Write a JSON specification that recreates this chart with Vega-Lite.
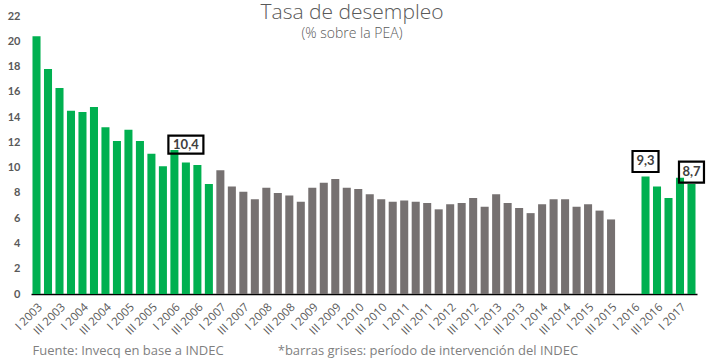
{
  "$schema": "https://vega.github.io/schema/vega-lite/v6.json",
  "width": 666,
  "height": 278,
  "autosize": {"type": "none"},
  "padding": {"left": 31, "top": 16, "right": 14, "bottom": 69},
  "background": "white",
  "title": {
    "text": "Tasa de desempleo",
    "subtitle": "(% sobre la PEA)",
    "anchor": "middle",
    "frame": "group",
    "dx": -12,
    "offset": -31,
    "font": "Open Sans",
    "fontSize": 21,
    "fontWeight": 300,
    "color": "#595959",
    "subtitleFont": "Open Sans",
    "subtitleFontSize": 14,
    "subtitleFontWeight": 300,
    "subtitleColor": "#595959",
    "subtitlePadding": 4
  },
  "config": {"view": {"stroke": null}},
  "data": {
    "values": [
      {"q": "I 2003", "v": 20.4, "p": "normal"},
      {"q": "II 2003", "v": 17.8, "p": "normal"},
      {"q": "III 2003", "v": 16.3, "p": "normal"},
      {"q": "IV 2003", "v": 14.5, "p": "normal"},
      {"q": "I 2004", "v": 14.4, "p": "normal"},
      {"q": "II 2004", "v": 14.8, "p": "normal"},
      {"q": "III 2004", "v": 13.2, "p": "normal"},
      {"q": "IV 2004", "v": 12.1, "p": "normal"},
      {"q": "I 2005", "v": 13.0, "p": "normal"},
      {"q": "II 2005", "v": 12.1, "p": "normal"},
      {"q": "III 2005", "v": 11.1, "p": "normal"},
      {"q": "IV 2005", "v": 10.1, "p": "normal"},
      {"q": "I 2006", "v": 11.4, "p": "normal"},
      {"q": "II 2006", "v": 10.4, "p": "normal", "lab": "10,4"},
      {"q": "III 2006", "v": 10.2, "p": "normal"},
      {"q": "IV 2006", "v": 8.7, "p": "normal"},
      {"q": "I 2007", "v": 9.8, "p": "intervencion"},
      {"q": "II 2007", "v": 8.5, "p": "intervencion"},
      {"q": "III 2007", "v": 8.1, "p": "intervencion"},
      {"q": "IV 2007", "v": 7.5, "p": "intervencion"},
      {"q": "I 2008", "v": 8.4, "p": "intervencion"},
      {"q": "II 2008", "v": 8.0, "p": "intervencion"},
      {"q": "III 2008", "v": 7.8, "p": "intervencion"},
      {"q": "IV 2008", "v": 7.3, "p": "intervencion"},
      {"q": "I 2009", "v": 8.4, "p": "intervencion"},
      {"q": "II 2009", "v": 8.8, "p": "intervencion"},
      {"q": "III 2009", "v": 9.1, "p": "intervencion"},
      {"q": "IV 2009", "v": 8.4, "p": "intervencion"},
      {"q": "I 2010", "v": 8.3, "p": "intervencion"},
      {"q": "II 2010", "v": 7.9, "p": "intervencion"},
      {"q": "III 2010", "v": 7.5, "p": "intervencion"},
      {"q": "IV 2010", "v": 7.3, "p": "intervencion"},
      {"q": "I 2011", "v": 7.4, "p": "intervencion"},
      {"q": "II 2011", "v": 7.3, "p": "intervencion"},
      {"q": "III 2011", "v": 7.2, "p": "intervencion"},
      {"q": "IV 2011", "v": 6.7, "p": "intervencion"},
      {"q": "I 2012", "v": 7.1, "p": "intervencion"},
      {"q": "II 2012", "v": 7.2, "p": "intervencion"},
      {"q": "III 2012", "v": 7.6, "p": "intervencion"},
      {"q": "IV 2012", "v": 6.9, "p": "intervencion"},
      {"q": "I 2013", "v": 7.9, "p": "intervencion"},
      {"q": "II 2013", "v": 7.2, "p": "intervencion"},
      {"q": "III 2013", "v": 6.8, "p": "intervencion"},
      {"q": "IV 2013", "v": 6.4, "p": "intervencion"},
      {"q": "I 2014", "v": 7.1, "p": "intervencion"},
      {"q": "II 2014", "v": 7.5, "p": "intervencion"},
      {"q": "III 2014", "v": 7.5, "p": "intervencion"},
      {"q": "IV 2014", "v": 6.9, "p": "intervencion"},
      {"q": "I 2015", "v": 7.1, "p": "intervencion"},
      {"q": "II 2015", "v": 6.6, "p": "intervencion"},
      {"q": "III 2015", "v": 5.9, "p": "intervencion"},
      {"q": "II 2016", "v": 9.3, "p": "normal", "lab": "9,3"},
      {"q": "III 2016", "v": 8.5, "p": "normal"},
      {"q": "IV 2016", "v": 7.6, "p": "normal"},
      {"q": "I 2017", "v": 9.2, "p": "normal"},
      {"q": "II 2017", "v": 8.7, "p": "normal", "lab": "8,7"}
    ]
  },
  "encoding": {
    "x": {
      "field": "q",
      "type": "nominal",
      "scale": {
        "domain": ["I 2003","II 2003","III 2003","IV 2003","I 2004","II 2004","III 2004","IV 2004","I 2005","II 2005","III 2005","IV 2005","I 2006","II 2006","III 2006","IV 2006","I 2007","II 2007","III 2007","IV 2007","I 2008","II 2008","III 2008","IV 2008","I 2009","II 2009","III 2009","IV 2009","I 2010","II 2010","III 2010","IV 2010","I 2011","II 2011","III 2011","IV 2011","I 2012","II 2012","III 2012","IV 2012","I 2013","II 2013","III 2013","IV 2013","I 2014","II 2014","III 2014","IV 2014","I 2015","II 2015","III 2015","IV 2015","I 2016","II 2016","III 2016","IV 2016","I 2017","II 2017"],
        "paddingInner": 0.3,
        "paddingOuter": 0.13
      },
      "axis": {
        "values": ["I 2003","III 2003","I 2004","III 2004","I 2005","III 2005","I 2006","III 2006","I 2007","III 2007","I 2008","III 2008","I 2009","III 2009","I 2010","III 2010","I 2011","III 2011","I 2012","III 2012","I 2013","III 2013","I 2014","III 2014","I 2015","III 2015","I 2016","III 2016","I 2017"],
        "labelAngle": -45,
        "labelFont": "Open Sans",
        "labelFontSize": 11.5,
        "labelColor": "#595959",
        "labelPadding": 7,
        "labelOverlap": false,
        "ticks": false,
        "domainColor": "#000000",
        "domainWidth": 1.5,
        "grid": false,
        "title": "Fuente: Invecq en base a INDEC\u00a0\u00a0\u00a0\u00a0\u00a0\u00a0\u00a0\u00a0\u00a0\u00a0\u00a0\u00a0\u00a0\u00a0\u00a0\u00a0*barras grises: período de intervención del INDEC",
        "titleFont": "Open Sans",
        "titleFontSize": 13,
        "titleFontWeight": "normal",
        "titleColor": "#7f7f7f",
        "titleAnchor": "start",
        "titleAlign": "left",
        "titleBaseline": "alphabetic",
        "titleX": 1,
        "titleY": 60
      }
    },
    "y": {
      "field": "v",
      "type": "quantitative",
      "scale": {"domain": [0, 22]},
      "axis": {
        "values": [0,2,4,6,8,10,12,14,16,18,20,22],
        "labelOverlap": false,
        "grid": false,
        "domain": false,
        "ticks": false,
        "labelFont": "Lato",
        "labelFontSize": 11,
        "labelFontWeight": "bold",
        "labelColor": "#595959",
        "labelPadding": 11,
        "title": null
      }
    }
  },
  "layer": [
    {
      "mark": {"type": "bar"},
      "encoding": {
        "color": {
          "field": "p",
          "type": "nominal",
          "scale": {"domain": ["normal", "intervencion"], "range": ["#00B050", "#767171"]},
          "legend": null
        }
      }
    },
    {
      "transform": [{"filter": "datum.lab != null"}],
      "mark": {
        "type": "point",
        "filled": false,
        "stroke": "#000000",
        "strokeWidth": 2.2,
        "opacity": 1,
        "size": 1225,
        "yOffset": {"expr": "datum.lab == '10,4' ? -18 : datum.lab == '9,3' ? -15 : -12"}
      },
      "encoding": {
        "shape": {
          "condition": [
            {"test": "datum.lab == '10,4'", "value": "M-1,-0.514L1,-0.514L1,0.514L-1,0.514Z"},
            {"test": "datum.lab == '9,3'", "value": "M-0.743,-0.6L0.743,-0.6L0.743,0.6L-0.743,0.6Z"}
          ],
          "value": "M-0.714,-0.6L0.714,-0.6L0.714,0.6L-0.714,0.6Z"
        }
      }
    },
    {
      "transform": [{"filter": "datum.lab != null"}],
      "mark": {
        "type": "text",
        "font": "Lato",
        "fontSize": 13,
        "fontWeight": "bold",
        "color": "#404040",
        "baseline": "middle",
        "align": "center",
        "yOffset": {"expr": "datum.lab == '10,4' ? -18 : datum.lab == '9,3' ? -15 : -12"}
      },
      "encoding": {
        "text": {"field": "lab"}
      }
    }
  ]
}
